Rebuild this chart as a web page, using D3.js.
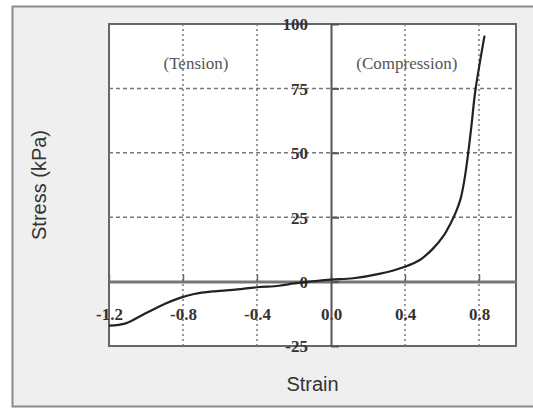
<!DOCTYPE html>
<html>
<head>
<meta charset="utf-8">
<script src="https://cdn.jsdelivr.net/npm/d3@7"></script>
<style>
    body { margin: 0; background: #fff; }
    svg { display: block; }
    .tick-label { font-family: "Liberation Serif", "DejaVu Serif", serif; font-weight: bold; font-size: 17px; fill: #333; }
    .note { font-family: "Liberation Serif", "DejaVu Serif", serif; font-size: 17px; fill: #555; }
    .title { font-family: "Liberation Sans", Arial, sans-serif; font-size: 20px; fill: #333; }
</style>
</head>
<body>
<svg id="chart"></svg>
<script>
// Data
const strain = [-1.2, -1.11, -1.01, -0.9, -0.82, -0.74, -0.64, -0.53, -0.4, -0.28, -0.2, -0.15, -0.07, 0,
    0.12, 0.26, 0.4, 0.48, 0.55, 0.61, 0.645, 0.675, 0.7, 0.72, 0.74, 0.76, 0.78, 0.83];
const stress = [-17.1, -16.2, -12.6, -8.7, -6.4, -4.8, -3.8, -3.2, -2.2, -1.6, -0.7, -0.3, 0.3, 0.8,
    1.3, 3.0, 5.8, 8.4, 12.7, 17.9, 22.4, 27, 32, 39, 49, 61, 74, 95.5];

const xTicks = [-1.2, -0.8, -0.4, 0, 0.4, 0.8];
const yTicks = [-25, 0, 25, 50, 75, 100];
const xGrid = [-0.8, -0.4, 0.4, 0.8];
const yGrid = [25, 50, 75];
const notes = [
    { text: "(Tension)", x: -0.73, y: 82.5 },
    { text: "(Compression)", x: 0.41, y: 82.5 }
];

// Layout
const W = 533, H = 409;
const plot = { left: 109, right: 516, top: 24, bottom: 346 };

const svg = d3.select("#chart")
    .attr("width", W)
    .attr("height", H);

// grey panel behind the chart
svg.append("rect")
    .attr("x", 12.5).attr("y", 6.5)
    .attr("width", W).attr("height", 400)
    .attr("fill", "#efefef")
    .attr("stroke", "#8a8a8a")
    .attr("stroke-width", 2);

const x = d3.scaleLinear()
    .domain([-1.2, 1.0])
    .range([plot.left, plot.right]);

const y = d3.scaleLinear()
    .domain([-25, 100])
    .range([plot.bottom, plot.top]);

// plot box
svg.append("rect")
    .attr("x", plot.left).attr("y", plot.top)
    .attr("width", plot.right - plot.left)
    .attr("height", plot.bottom - plot.top)
    .attr("fill", "#fff")
    .attr("stroke", "#666")
    .attr("stroke-width", 2);

// grid
svg.selectAll("line.gx")
    .data(xGrid)
    .enter()
    .append("line")
    .attr("class", "gx")
    .attr("x1", d => x(d)).attr("x2", d => x(d))
    .attr("y1", plot.top).attr("y2", plot.bottom)
    .attr("stroke", "#777")
    .attr("stroke-width", 1.5)
    .attr("stroke-dasharray", "2,3");

svg.selectAll("line.gy")
    .data(yGrid)
    .enter()
    .append("line")
    .attr("class", "gy")
    .attr("x1", plot.left).attr("x2", plot.right)
    .attr("y1", d => y(d)).attr("y2", d => y(d))
    .attr("stroke", "#777")
    .attr("stroke-width", 1.5)
    .attr("stroke-dasharray", "4,3");

// axes through the origin
const xAxis = d3.axisBottom(x)
    .tickValues(xTicks)
    .tickFormat(d => d.toFixed(1))
    .tickSizeInner(-7)
    .tickSizeOuter(0)
    .tickPadding(26);

const yAxis = d3.axisLeft(y)
    .tickValues(yTicks)
    .tickFormat(d => String(d))
    .tickSizeInner(-8)
    .tickSizeOuter(0)
    .tickPadding(23);

const gx = svg.append("g")
    .attr("transform", `translate(0, ${y(0)})`)
    .call(xAxis);
gx.select(".domain").attr("stroke", "#777").attr("stroke-width", 3);
gx.selectAll(".tick line").attr("stroke", "#666").attr("stroke-width", 1.5);

const gy = svg.append("g")
    .attr("transform", `translate(${x(0)}, 0)`)
    .call(yAxis);
gy.select(".domain").attr("stroke", "#555").attr("stroke-width", 2);
gy.selectAll(".tick line").attr("stroke", "#555").attr("stroke-width", 2);

svg.selectAll(".tick text")
    .attr("class", "tick-label")
    .attr("font-family", null)
    .attr("font-size", null);
gy.selectAll(".tick text").attr("dy", "0.35em");

// curve
const points = strain.map((s, i) => [s, stress[i]]);
const line = d3.line()
    .x(d => x(d[0]))
    .y(d => y(d[1]))
    .curve(d3.curveCatmullRom.alpha(0.5));

svg.append("path")
    .datum(points)
    .attr("d", line)
    .attr("fill", "none")
    .attr("stroke", "#222")
    .attr("stroke-width", 2.2);

// notes
svg.selectAll("text.note")
    .data(notes)
    .enter()
    .append("text")
    .attr("class", "note")
    .attr("x", d => x(d.x))
    .attr("y", d => y(d.y))
    .attr("text-anchor", "middle")
    .text(d => d.text);

// axis titles
svg.append("text")
    .attr("class", "title")
    .attr("text-anchor", "middle")
    .attr("x", (plot.left + plot.right) / 2)
    .attr("y", 391)
    .text("Strain");

svg.append("text")
    .attr("class", "title")
    .attr("text-anchor", "middle")
    .attr("transform", `translate(46, ${(plot.top + plot.bottom) / 2}) rotate(-90)`)
    .text("Stress (kPa)");
</script>
</body>
</html>
